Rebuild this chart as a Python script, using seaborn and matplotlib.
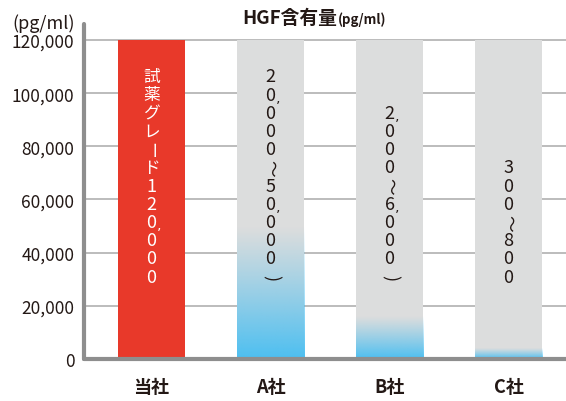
import numpy as np
import pandas as pd
import matplotlib
matplotlib.use("Agg")
import matplotlib.pyplot as plt
import seaborn as sns
from matplotlib.colors import to_rgb

# ---- data ----
categories = ["当社", "A社", "B社", "C社"]
bar_values = [120000, 120000, 120000, 120000]
fade_tops = [0, 50000, 16000, 4000]
bar_labels = ["試薬グレード120,000", "20,000〜50,000)", "2,000〜6,000)", "300〜800"]
yticks = [0, 20000, 40000, 60000, 80000, 100000, 120000]
ytick_labels = ["0", "20,000", "40,000", "60,000", "80,000", "100,000", "120,000"]
title_main = "HGF含有量"
title_unit = "(pg/ml)"
axis_unit = "(pg/ml)"

RED = "#e8392a"
GRAY = "#dcdddd"
BLUE = "#4cbff1"
TEXT = "#231815"
SPINE = "#8e8e8e"
GRID = "#a9a9a9"

sns.set_theme(style="white")
plt.rcParams["font.family"] = ["Noto Sans CJK JP", "DejaVu Sans"]

W, H = 566, 402
fig = plt.figure(figsize=(W / 100, H / 100), dpi=100)
ax = fig.add_axes([84 / W, 42 / H, 1 - 84 / W, 335 / H])

df = pd.DataFrame({"company": categories, "value": bar_values})
sns.barplot(data=df, x="company", y="value", hue="company",
            palette=[RED, GRAY, GRAY, GRAY], width=0.563, saturation=1,
            linewidth=0, legend=False, ax=ax, zorder=2)

# blue gradient overlays
blue = to_rgb(BLUE)
for patch, top in zip(ax.patches, fade_tops):
    if top <= 0:
        continue
    n = 256
    t = np.linspace(0, 1, n)
    grad = np.zeros((n, 1, 4))
    grad[:, 0, :3] = blue
    grad[:, 0, 3] = (1 - t) ** 1.1
    x0 = patch.get_x()
    w = patch.get_width()
    ax.imshow(grad, extent=[x0, x0 + w, 0, top], origin="lower",
              aspect="auto", zorder=3, interpolation="bilinear")

ax.set_xlim(-0.567, 3.483)
ax.set_ylim(0, 126000)

# grid / spines
ax.set_yticks(yticks)
ax.set_yticklabels(ytick_labels)
ax.yaxis.grid(True, color=GRID, lw=1.1)
ax.xaxis.grid(False)
ax.set_axisbelow(True)
for s in ["top", "right"]:
    ax.spines[s].set_visible(False)
for s in ["left", "bottom"]:
    ax.spines[s].set_color(SPINE)
    ax.spines[s].set_linewidth(3)
    ax.spines[s].set_capstyle("round")
    ax.spines[s].set_zorder(5)
ax.set_xlabel("")
ax.set_ylabel("")
ax.tick_params(axis="y", length=0, pad=7, labelsize=12.5, labelcolor=TEXT)
ax.tick_params(axis="x", length=0, pad=13, labelsize=13, labelcolor=TEXT)
for lbl in ax.get_xticklabels():
    lbl.set_fontweight("bold")


# vertical (tategaki) labels inside bars
def vertical_label(xpos, text, color):
    slots = []
    pending = False
    for ch in text:
        if ch == ",":
            pending = True
            continue
        slots.append((ch, pending))
        pending = False
    n = len(slots)
    step = 13.1
    anchor = 31000
    for k, (ch, comma_before) in enumerate(slots):
        off = (n - 1 - k) * step
        rot = -90 if ch in "ー〜)" else 0
        size = 12 if ord(ch) > 0x2000 else 13
        ax.annotate(ch, xy=(xpos, anchor), xytext=(0, off),
                    textcoords="offset points", ha="center", va="center",
                    rotation=rot, fontsize=size, color=color, zorder=6)
        if comma_before:
            ax.annotate("’", xy=(xpos, anchor), xytext=(5.4, off + step * 0.40),
                        textcoords="offset points", ha="center", va="center",
                        fontsize=10, color=color, zorder=6,
                        family=["DejaVu Sans"])


label_colors = ["white", TEXT, TEXT, TEXT]
for i, (txt, col) in enumerate(zip(bar_labels, label_colors)):
    vertical_label(i, txt, col)

# titles
fig.text(337 / W, 1 - 24 / H, title_main, ha="right", va="baseline",
         fontsize=13.5, fontweight="bold", color=TEXT)
fig.text(338 / W, 1 - 24 / H, title_unit, ha="left", va="baseline",
         fontsize=9.5, fontweight="bold", color=TEXT)
fig.text(75 / W, 1 - 29 / H, axis_unit, ha="right", va="baseline",
         fontsize=13, color=TEXT)

fig.savefig("out.png", dpi=100)
